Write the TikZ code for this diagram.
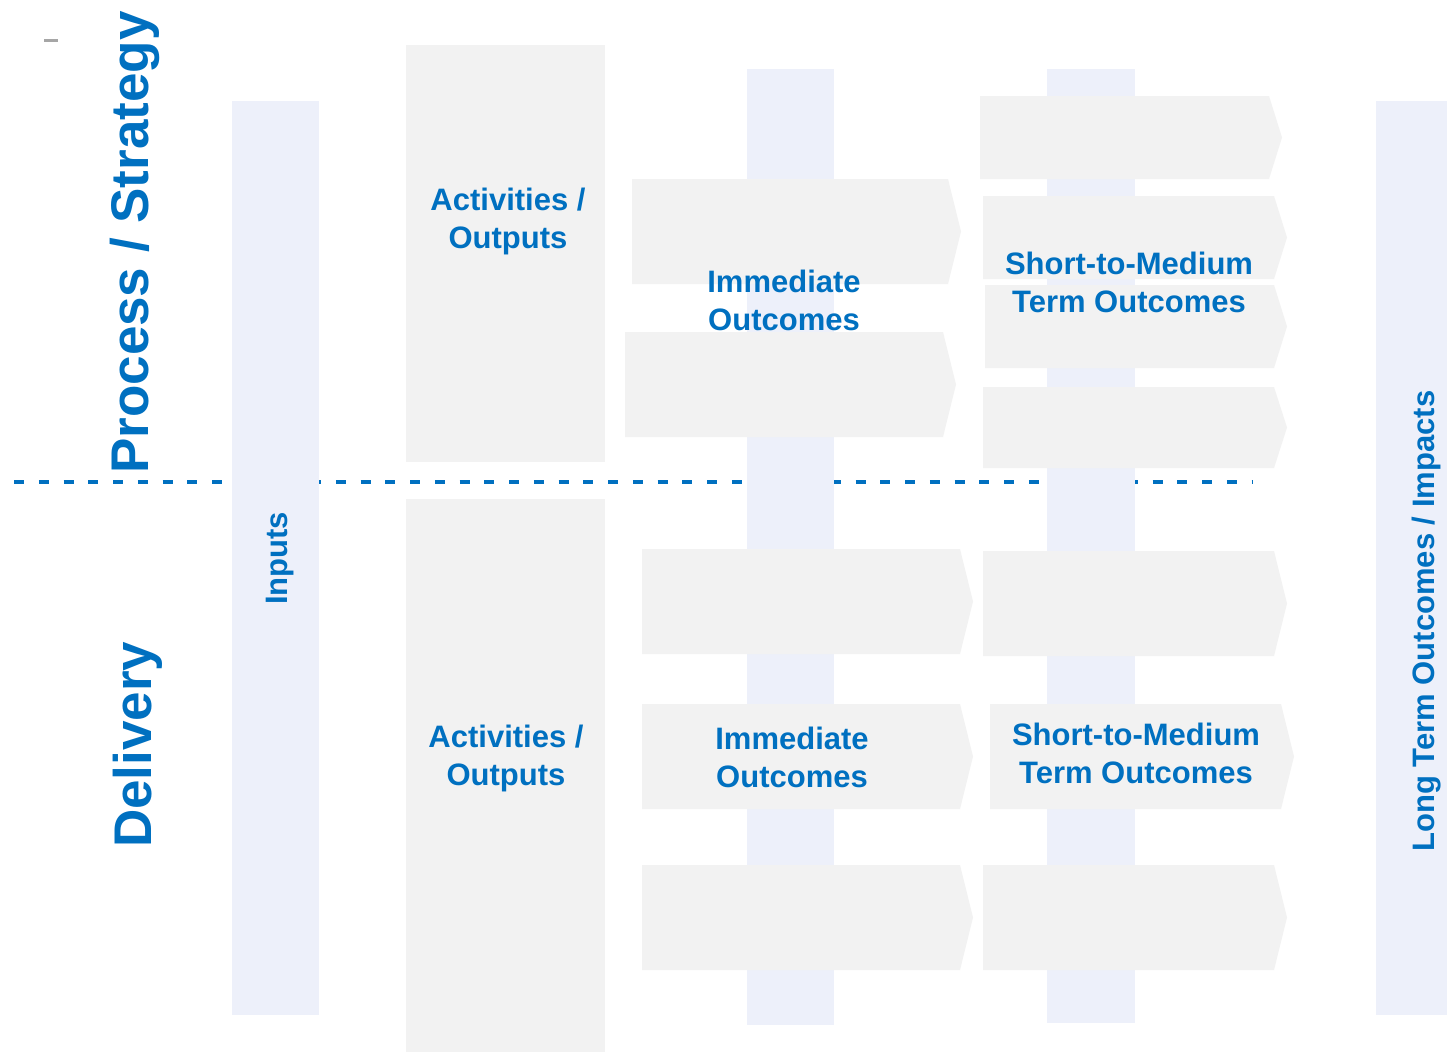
\documentclass[tikz,border=0pt]{standalone}
\usepackage{fontspec, xfp}
\setmainfont{Liberation Sans}
\definecolor{lavBand}{HTML}{EDF0FA}
\definecolor{greyBox}{HTML}{F2F2F2}
\definecolor{blueTxt}{HTML}{0070C0}
\newcommand*{\tipDepth}{13}
\newcommand*{\band}[4]{\fill[lavBand] (#1,#2) rectangle (#3,#4);} % xstart, ystart, xend, yend
\newcommand*{\chev}[4]{% xstart, ytop, xtip, ybottom
    \fill[greyBox] (#1,#2) -- (\fpeval{#3-\tipDepth},#2) -- (#3,\fpeval{(#2+#4)/2}) -- (\fpeval{#3-\tipDepth},#4) -- (#1,#4) -- cycle;
}
\tikzset{
    lbl/.style={text=blueTxt, font=\bfseries\fontsize{31}{38}\selectfont, align=center, inner sep=0pt, anchor=north},
    colLbl/.style={text=blueTxt, font=\bfseries\fontsize{31}{38}\selectfont, rotate=90, inner sep=0pt, anchor=base west},
    sideLbl/.style={text=blueTxt, font=\bfseries\fontsize{53}{60}\selectfont, rotate=90, inner sep=0pt, anchor=base west},
    divider/.style={blueTxt, line width=3.5pt, dash pattern=on 10pt off 14.75pt},
}
\begin{document}
\begin{tikzpicture}[x=1pt, y=-1pt]
\fill[white] (0,0) rectangle (1447,1052);
\useasboundingbox (0,0) rectangle (1447,1052);
% divider between the two rows, behind the bands
\coordinate (divL) at (14,482);
\coordinate (divR) at (1252,482);
\draw[divider] (divL) -- (divR);
\coordinate (tickL) at (44,40);
\coordinate (tickR) at (58,40);
\draw[gray!70, line width=3pt] (tickL) -- (tickR);
% columns
\band{232}{101}{319}{1015}
\band{747}{69}{834}{1025}
\band{1047}{69}{1135}{1023}
\band{1376}{101}{1447}{1015}
% activities
\fill[greyBox] (406,45) rectangle (605,462);
\fill[greyBox] (406,499) rectangle (605,1052);
% arrows, top row
\chev{632}{179}{961}{284}
\chev{625}{332}{956}{437}
\chev{980}{96}{1282}{179}
\chev{983}{196}{1287}{279}
\chev{985}{285}{1287}{368}
\chev{983}{387}{1287}{468}
% arrows, bottom row
\foreach \y in {549,704,865} {
    \chev{642}{\y}{973}{\fpeval{\y+105}}
}
\chev{983}{551}{1287}{656}
\chev{990}{704}{1294}{809}
\chev{983}{865}{1287}{970}
% labels
\node[sideLbl] (procLbl) at (148,474) {Process / Strategy};
\node[sideLbl] (delivLbl) at (151,848) {Delivery};
\node[colLbl] (inputsLbl) at (287,605) {Inputs};
\node[colLbl] (longLbl) at (1434,852) {Long Term Outcomes / Impacts};
\node[lbl] (actTop) at (508,188) {Activities /\\Outputs};
\node[lbl] (actBot) at (506,725) {Activities /\\Outputs};
\node[lbl] (immTop) at (784,270) {Immediate\\Outcomes};
\node[lbl] (immBot) at (792,727) {Immediate\\Outcomes};
\node[lbl] (shortTop) at (1129,252) {Short-to-Medium\\Term Outcomes};
\node[lbl] (shortBot) at (1136,723) {Short-to-Medium\\Term Outcomes};
\end{tikzpicture}
\end{document}
